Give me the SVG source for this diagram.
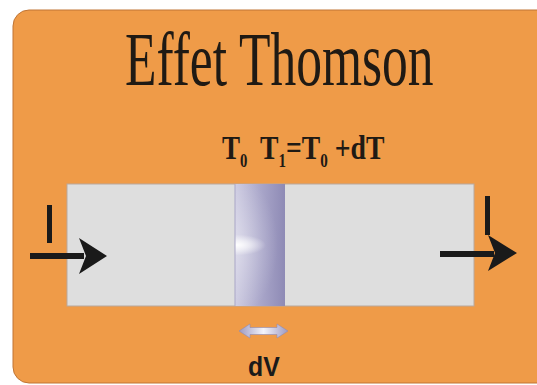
<svg xmlns="http://www.w3.org/2000/svg" width="537" height="385" viewBox="0 0 537 385">
  <defs>
    <linearGradient id="bandLin" x1="0" y1="0" x2="1" y2="0">
      <stop offset="0" stop-color="#cdcbe1"/>
      <stop offset="0.5" stop-color="#aaa7ca"/>
      <stop offset="1" stop-color="#8e8ab5"/>
    </linearGradient>
    <radialGradient id="bandGlow" gradientUnits="userSpaceOnUse" cx="236" cy="245" r="30" gradientTransform="translate(236 245) scale(1 0.35) translate(-236 -245)">
      <stop offset="0" stop-color="#ffffff" stop-opacity="1"/>
      <stop offset="0.45" stop-color="#ffffff" stop-opacity="0.6"/>
      <stop offset="1" stop-color="#ffffff" stop-opacity="0"/>
    </radialGradient>
    <radialGradient id="bandHalo" gradientUnits="userSpaceOnUse" cx="236" cy="245" r="70" gradientTransform="translate(236 245) scale(0.6 1) translate(-236 -245)">
      <stop offset="0" stop-color="#ffffff" stop-opacity="0.35"/>
      <stop offset="1" stop-color="#ffffff" stop-opacity="0"/>
    </radialGradient>
    <linearGradient id="dvGrad" x1="0" y1="0" x2="1" y2="0">
      <stop offset="0" stop-color="#9d9ac2"/>
      <stop offset="0.5" stop-color="#f4f4fb"/>
      <stop offset="1" stop-color="#9d9ac2"/>
    </linearGradient>
    <style>
      .title { font-family: "Liberation Serif", "Times New Roman", serif; font-size: 76px; fill: #1f1a14; }
      .temp { font-family: "Liberation Serif", "Times New Roman", serif; font-weight: bold; font-size: 33px; fill: #1f1a14; }
      .sub { font-size: 18px; }
      .dv { font-family: "Liberation Sans", Arial, sans-serif; font-weight: bold; font-size: 27px; fill: #1a1a1a; }
      .ink { fill: #1a1a1a; }
    </style>
  </defs>

  <g id="background">
    <rect x="13" y="10" width="540" height="373" rx="16" ry="16" fill="#ef9b48" stroke="#c07535" stroke-width="1"/>
  </g>

  <g id="title">
    <text class="title" transform="translate(125 85) scale(0.678 1)">Effet Thomson</text>
  </g>

  <g id="bar">
    <rect x="67" y="184" width="407" height="122" fill="#dedede" stroke="#b9a89c" stroke-width="1"/>
  </g>

  <g id="slice">
    <rect x="235" y="184" width="50" height="122" fill="url(#bandLin)"/>
    <rect x="235" y="184" width="50" height="122" fill="url(#bandHalo)"/>
    <rect x="235" y="184" width="50" height="122" fill="url(#bandGlow)"/>
    <line x1="235" y1="184" x2="235" y2="306" stroke="#a9a6c6" stroke-width="1"/>
  </g>

  <g id="label-T0">
    <text class="temp" transform="translate(222 159) scale(0.82 1)">T<tspan class="sub" dy="8">0</tspan></text>
  </g>

  <g id="label-T1">
    <text class="temp" transform="translate(260 159) scale(0.84 1)">T<tspan class="sub" dy="8">1</tspan><tspan dy="-8">=T</tspan><tspan class="sub" dy="8">0</tspan><tspan dy="-8"> +dT</tspan></text>
  </g>

  <g id="dV">
    <polygon points="239,331 250,324 250,327.5 277,327.5 277,324 288,331 277,338 277,334.5 250,334.5 250,338" fill="url(#dvGrad)" stroke="#8f8cb5" stroke-width="0.6"/>
    <text class="dv" transform="translate(248 376) scale(0.92 1)">dV</text>
  </g>

  <g id="connectors">
    <g id="current-in">
      <rect x="47" y="205" width="5" height="38" class="ink"/>
      <rect x="30" y="253" width="54" height="6" class="ink"/>
      <polygon points="79,238 107,256 79,274 86,256" class="ink"/>
    </g>
    <g id="current-out">
      <rect x="485" y="196" width="5" height="39" class="ink"/>
      <rect x="440" y="251" width="54" height="6" class="ink"/>
      <polygon points="488,235 517,253 488,271 495,253" class="ink"/>
    </g>
  </g>
</svg>
